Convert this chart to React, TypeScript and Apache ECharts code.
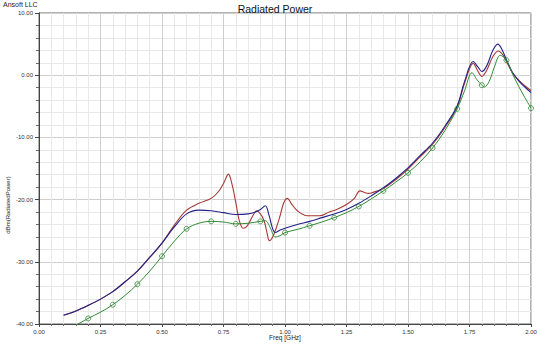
import React, { useEffect, useRef } from "react";
import * as echarts from "echarts";

const blueFreq = [0.10, 0.15, 0.20, 0.25, 0.30, 0.35, 0.40, 0.45, 0.50, 0.55, 0.60, 0.65, 0.70, 0.75, 0.80, 0.85, 0.88, 0.90, 0.92, 0.935, 0.95, 0.96, 0.98, 1.00, 1.05, 1.10, 1.15, 1.20, 1.25, 1.30, 1.35, 1.40, 1.45, 1.50, 1.55, 1.60, 1.65, 1.70, 1.73, 1.765, 1.785, 1.80, 1.82, 1.845, 1.865, 1.88, 1.90, 1.925, 1.95, 1.975, 2.00];
const blueDb = [-38.6, -37.9, -37.0, -36.0, -34.8, -33.2, -31.5, -29.3, -27.0, -24.4, -22.3, -21.7, -21.8, -22.1, -22.4, -22.3, -22.0, -21.6, -21.0, -22.5, -24.7, -25.3, -24.9, -24.6, -24.0, -23.5, -22.9, -22.3, -21.6, -20.6, -19.4, -18.1, -16.6, -14.9, -12.9, -10.9, -8.2, -4.9, -1.0, 2.2, 1.3, 0.6, 1.5, 4.0, 5.0, 4.3, 2.5, 0.4, -0.9, -1.9, -2.8];

const redFreq = [0.10, 0.15, 0.20, 0.25, 0.30, 0.35, 0.40, 0.45, 0.50, 0.55, 0.60, 0.65, 0.70, 0.73, 0.75, 0.77, 0.785, 0.80, 0.815, 0.83, 0.845, 0.86, 0.875, 0.885, 0.90, 0.915, 0.925, 0.937, 0.95, 0.965, 0.98, 0.995, 1.01, 1.025, 1.05, 1.09, 1.14, 1.18, 1.21, 1.25, 1.28, 1.305, 1.325, 1.34, 1.36, 1.40, 1.45, 1.50, 1.55, 1.60, 1.65, 1.70, 1.73, 1.765, 1.785, 1.80, 1.82, 1.845, 1.867, 1.885, 1.90, 1.925, 1.95, 1.975, 2.00];
const redDb = [-38.6, -37.9, -37.0, -36.0, -34.8, -33.2, -31.5, -29.3, -27.0, -24.1, -21.7, -20.6, -19.8, -18.7, -17.4, -15.9, -17.6, -20.5, -23.5, -24.6, -24.3, -23.3, -22.2, -21.8, -22.3, -23.4, -25.0, -26.6, -26.0, -24.5, -22.6, -20.5, -19.8, -20.6, -21.8, -22.6, -22.6, -22.0, -21.6, -20.8, -19.9, -18.6, -18.9, -19.0, -18.8, -18.2, -16.8, -15.1, -13.1, -11.1, -8.4, -5.1, -1.3, 1.9, 0.6, -0.2, 0.8, 3.0, 3.9, 3.3, 2.2, 0.4, -0.8, -1.7, -2.5];

const greenFreq = [0.10, 0.15, 0.20, 0.25, 0.30, 0.35, 0.40, 0.45, 0.50, 0.55, 0.60, 0.65, 0.70, 0.75, 0.80, 0.85, 0.90, 0.92, 0.94, 0.96, 0.98, 1.00, 1.05, 1.10, 1.15, 1.20, 1.25, 1.30, 1.35, 1.40, 1.45, 1.50, 1.55, 1.60, 1.65, 1.70, 1.73, 1.76, 1.78, 1.80, 1.81, 1.83, 1.85, 1.875, 1.90, 1.925, 1.95, 1.975, 2.00];
const greenDb = [-41.3, -40.2, -39.1, -38.1, -36.9, -35.4, -33.6, -31.5, -29.1, -26.7, -24.7, -23.8, -23.5, -23.6, -23.9, -23.8, -23.5, -23.4, -24.5, -26.0, -25.8, -25.3, -24.8, -24.2, -23.6, -22.9, -22.1, -21.1, -19.9, -18.6, -17.2, -15.7, -13.9, -11.7, -8.9, -5.4, -2.5, 0.4, -0.7, -1.6, -1.9, -1.0, 1.2, 3.2, 2.4, 0.2, -1.8, -3.6, -5.3];

const markerFreq = [0.2, 0.3, 0.4, 0.5, 0.6, 0.7, 0.8, 0.9, 1.0, 1.1, 1.2, 1.3, 1.4, 1.5, 1.6, 1.7, 1.8, 1.9, 2.0];

const xTicks = ["0.00", "0.25", "0.50", "0.75", "1.00", "1.25", "1.50", "1.75", "2.00"];

const pairs = (fs: number[], vs: number[]) => fs.map((f, i) => [f, vs[i]]);

export default function App() {
  const ref = useRef<HTMLDivElement>(null);
  useEffect(() => {
    document.body.style.margin = "0";
    if (!ref.current) return;
    const chart = echarts.init(ref.current, null, { renderer: "svg" });
    const font = "Liberation Sans, Arial, sans-serif";
    const markers = markerFreq.map((m) => {
      const i = greenFreq.findIndex((f) => Math.abs(f - m) < 1e-6);
      return [greenFreq[i], greenDb[i]];
    });
    chart.setOption({
      animation: false,
      textStyle: { fontFamily: font },
      title: {
        text: "Radiated Power",
        left: 270,
        textAlign: "center",
        top: -2,
        textStyle: { fontSize: 10.5, fontWeight: "normal", color: "#111", fontFamily: font },
      },
      graphic: [
        { type: "text", left: 3, top: 1, style: { text: "Ansoft LLC", fontSize: 7, fill: "#222", fontFamily: font } },
        {
          type: "text",
          x: 8,
          y: 205,
          rotation: Math.PI / 2,
          style: { text: "dBm(RadiatedPower)", fontSize: 6, fill: "#222", fontFamily: font, align: "center", verticalAlign: "middle" },
        },
        { type: "text", x: 285, y: 337, style: { text: "Freq [GHz]", fontSize: 6.5, fill: "#222", fontFamily: font, align: "center", verticalAlign: "middle" } },
      ],
      grid: { left: 39, right: 9, top: 13, bottom: 20, show: true, borderColor: "#666", borderWidth: 1, backgroundColor: "transparent" },
      xAxis: {
        type: "value",
        min: 0,
        max: 2,
        interval: 0.25,
        axisLine: { onZero: false, lineStyle: { color: "#444" } },
        axisTick: { length: 3, lineStyle: { color: "#444" } },
        minorTick: { show: true, splitNumber: 5, length: 2, lineStyle: { color: "#666" } },
        axisLabel: { fontSize: 6, color: "#333", margin: 5, formatter: (v: number) => xTicks[Math.round(v / 0.25)] ?? v.toFixed(2) },
        splitLine: { show: true, lineStyle: { color: "#cfcfcf", width: 1 } },
        minorSplitLine: { show: true, lineStyle: { color: "#e8e8e8", width: 1 } },
      },
      yAxis: {
        type: "value",
        min: -40,
        max: 10,
        interval: 10,
        axisLine: { show: true, onZero: false, lineStyle: { color: "#444" } },
        axisTick: { show: true, length: 4, lineStyle: { color: "#444" } },
        minorTick: { show: true, splitNumber: 5, length: 3, lineStyle: { color: "#666" } },
        axisLabel: { fontSize: 6, color: "#333", margin: 6, formatter: (v: number) => v.toFixed(2) },
        splitLine: { show: true, lineStyle: { color: "#cfcfcf", width: 1 } },
        minorSplitLine: { show: true, lineStyle: { color: "#e8e8e8", width: 1 } },
      },
      series: [
        {
          type: "line",
          data: pairs(redFreq, redDb),
          showSymbol: false,
          symbol: "none",
          smooth: 0.35,
          lineStyle: { color: "#a53a35", width: 1.1, type: "solid" },
          clip: true,
        },
        {
          type: "line",
          data: pairs(blueFreq, blueDb),
          showSymbol: false,
          symbol: "none",
          smooth: 0.35,
          lineStyle: { color: "#22228a", width: 1.1, type: "solid" },
          clip: true,
        },
        {
          type: "line",
          data: pairs(greenFreq, greenDb),
          showSymbol: false,
          symbol: "none",
          smooth: 0.35,
          lineStyle: { color: "#2f8a34", width: 1, type: "solid" },
          clip: true,
        },
        {
          type: "scatter",
          data: markers,
          symbol: "circle",
          symbolSize: 5,
          itemStyle: { color: "rgba(255,255,255,0)", borderColor: "#2f8a34", borderWidth: 1 },
          clip: true,
          z: 5,
        },
      ],
    });
    return () => chart.dispose();
  }, []);
  return <div ref={ref} style={{ width: 540, height: 344 }} />;
}
